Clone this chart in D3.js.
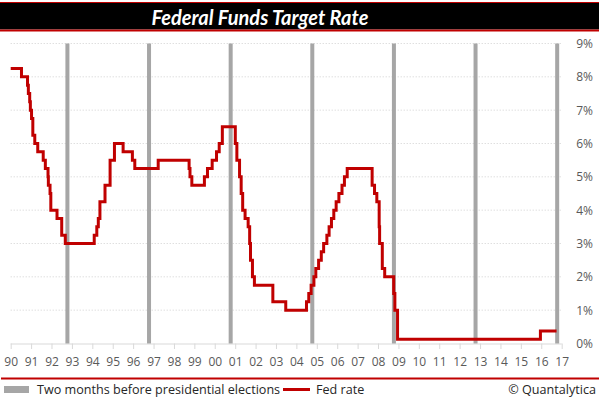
<!DOCTYPE html>
<html>
<head>
  <title>Federal Funds Target Rate</title>
  <script src="https://d3js.org/d3.v7.min.js"></script>
  <style>
    body { margin: 0; background: #fff; }
    text { font-family: "Open Sans", sans-serif; }
  </style>
</head>
<body>
  <div id="chart"></div>
  <script>
  // target rate change points (date, %)
  const rateDates = [
    "1990-01-01","1990-07-13","1990-10-29","1990-11-13","1990-12-07","1990-12-19",
    "1991-01-09","1991-02-01","1991-03-08","1991-04-30","1991-08-06","1991-09-13",
    "1991-10-31","1991-11-06","1991-12-06","1991-12-20","1992-04-09","1992-07-02",
    "1992-09-04","1994-02-04","1994-03-22","1994-04-18","1994-05-17","1994-08-16",
    "1994-11-15","1995-02-01","1995-07-06","1995-12-19","1996-01-31","1997-03-25",
    "1998-09-29","1998-10-15","1998-11-17","1999-06-30","1999-08-24","1999-11-16",
    "2000-02-02","2000-03-21","2000-05-16","2001-01-03","2001-01-31","2001-03-20",
    "2001-04-18","2001-05-15","2001-06-27","2001-08-21","2001-09-17","2001-10-02",
    "2001-11-06","2001-12-11","2002-11-06","2003-06-25","2004-06-30","2004-08-10",
    "2004-09-21","2004-11-10","2004-12-14","2005-02-02","2005-03-22","2005-05-03",
    "2005-06-30","2005-08-09","2005-09-20","2005-11-01","2005-12-13","2006-01-31",
    "2006-03-28","2006-05-10","2006-06-29","2007-09-18","2007-10-31","2007-12-11",
    "2008-01-22","2008-01-30","2008-03-18","2008-04-30","2008-10-08","2008-10-29",
    "2008-12-16","2015-12-17","2016-10-01"
  ];
  const rateValues = [
    8.25, 8.00, 7.75, 7.50, 7.25, 7.00,
    6.75, 6.25, 6.00, 5.75, 5.50, 5.25,
    5.00, 4.75, 4.50, 4.00, 3.75, 3.25,
    3.00, 3.25, 3.50, 3.75, 4.25, 4.75,
    5.50, 6.00, 5.75, 5.50, 5.25, 5.50,
    5.25, 5.00, 4.75, 5.00, 5.25, 5.50,
    5.75, 6.00, 6.50, 6.00, 5.50, 5.00,
    4.50, 4.00, 3.75, 3.50, 3.00, 2.50,
    2.00, 1.75, 1.25, 1.00, 1.25, 1.50,
    1.75, 2.00, 2.25, 2.50, 2.75, 3.00,
    3.25, 3.50, 3.75, 4.00, 4.25, 4.50,
    4.75, 5.00, 5.25, 4.75, 4.50, 4.25,
    3.50, 3.00, 2.25, 2.00, 1.50, 1.00,
    0.125, 0.375, 0.375
  ];
  const electionDates = ["1992-10-12","1996-10-12","2000-10-12","2004-10-12","2008-10-12","2012-10-12","2016-10-12"];
  const xTickYears = d3.range(1990, 2018);
  const yTicks = [0, 1, 2, 3, 4, 5, 6, 7, 8, 9];

  const W = 599, H = 399;
  const plotL = 10.7, plotR = 561.7, plotT = 43.5, plotB = 343.5;
  const red = "#c00000";

  const svg = d3.select("#chart").append("svg")
    .attr("width", W).attr("height", H);

  // title band
  svg.append("rect").attr("x", 0).attr("y", 2).attr("width", W).attr("height", 1).attr("fill", red);
  svg.append("rect").attr("x", 0).attr("y", 3).attr("width", W).attr("height", 26.5).attr("fill", "#000");
  svg.append("rect").attr("x", 0).attr("y", 29.5).attr("width", W).attr("height", 2).attr("fill", red);
  svg.append("text")
    .attr("x", 260).attr("y", 24.5)
    .attr("text-anchor", "middle")
    .attr("fill", "#fff")
    .style("font-family", "Lato, sans-serif")
    .style("font-weight", "bold").style("font-style", "italic")
    .style("font-size", "20px")
    .text("Federal Funds Target Rate");

  const parse = d3.timeParse("%Y-%m-%d");
  const x = d3.scaleTime()
    .domain([new Date(1990, 0, 1), new Date(2017, 0, 1)])
    .range([plotL, plotR]);
  const y = d3.scaleLinear().domain([0, 9]).range([plotB, plotT]);

  // horizontal gridlines
  svg.append("g").selectAll("line")
    .data(yTicks.filter(d => d > 0))
    .join("line")
    .attr("x1", plotL).attr("x2", plotR)
    .attr("y1", d => y(d)).attr("y2", d => y(d))
    .attr("stroke", "#d0d0d0").attr("stroke-dasharray", "1,2");

  // x axis
  const xAxis = svg.append("g")
    .attr("transform", `translate(0,${plotB})`)
    .call(d3.axisBottom(x)
      .tickValues(xTickYears.map(yr => new Date(yr, 0, 1)))
      .tickFormat(d3.timeFormat("%y"))
      .tickSize(5.5).tickPadding(8));
  xAxis.select(".domain").attr("stroke", "#d9d9d9").attr("d", `M${plotL},0.5H${plotR}`);
  xAxis.selectAll(".tick line").attr("stroke", "#d9d9d9");
  xAxis.selectAll(".tick text").attr("fill", "#595959").style("font-size", "12px");

  // y axis on right
  const yAxis = svg.append("g")
    .attr("transform", `translate(593,0)`)
    .call(d3.axisLeft(y).tickValues(yTicks).tickFormat(d => d + "%").tickSize(0).tickPadding(0));
  yAxis.select(".domain").remove();
  yAxis.selectAll(".tick text").attr("fill", "#595959").style("font-size", "12px");

  // election bars
  svg.append("g").selectAll("rect")
    .data(electionDates)
    .join("rect")
    .attr("x", d => x(parse(d)) - 2)
    .attr("y", plotT)
    .attr("width", 4)
    .attr("height", plotB - plotT)
    .attr("fill", "#a6a6a6");

  // fed rate line
  const rate = rateDates.map((d, i) => ({ date: parse(d), value: rateValues[i] }));
  svg.append("path")
    .datum(rate)
    .attr("fill", "none")
    .attr("stroke", red)
    .attr("stroke-width", 3)
    .attr("d", d3.line().x(d => x(d.date)).y(d => y(d.value)).curve(d3.curveStepAfter));

  // bottom rule and legend
  svg.append("rect").attr("x", 1).attr("y", 377.5).attr("width", W - 1).attr("height", 2).attr("fill", red);
  svg.append("rect").attr("x", 4).attr("y", 386).attr("width", 25).attr("height", 7).attr("fill", "#a6a6a6");
  svg.append("text").attr("x", 37).attr("y", 393.5).attr("fill", "#262626").style("font-size", "12.6px")
    .text("Two months before presidential elections");
  svg.append("line").attr("x1", 283).attr("x2", 310).attr("y1", 389.5).attr("y2", 389.5)
    .attr("stroke", red).attr("stroke-width", 3);
  svg.append("text").attr("x", 316).attr("y", 393.5).attr("fill", "#262626").style("font-size", "12.6px")
    .text("Fed rate");
  svg.append("text").attr("x", 596).attr("y", 393.5).attr("text-anchor", "end").attr("fill", "#262626")
    .style("font-size", "12.6px").text("© Quantalytica");
  </script>
</body>
</html>
